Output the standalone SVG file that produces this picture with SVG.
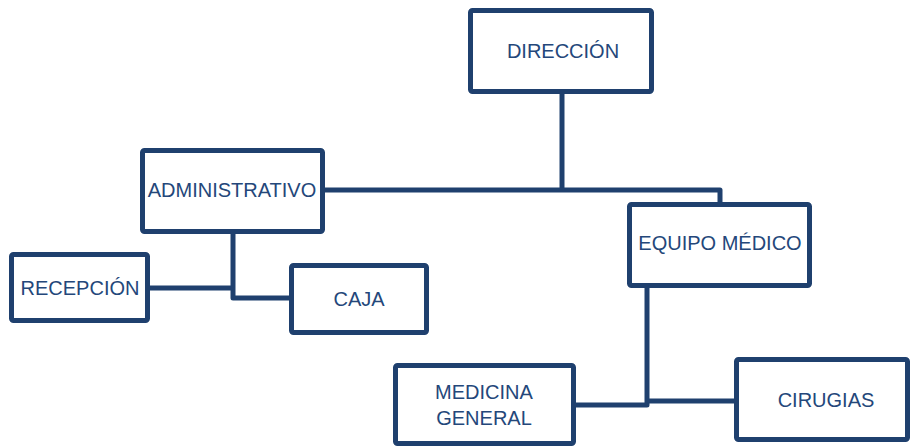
<svg xmlns="http://www.w3.org/2000/svg" width="910" height="446" viewBox="0 0 910 446">
<style>
.box{fill:#ffffff;stroke:#1f406e;stroke-width:5;stroke-linejoin:round}
.lbl{font-family:"Liberation Sans",Arial,sans-serif;font-size:20px;fill:#24477a;text-anchor:middle;dominant-baseline:central}
.con{fill:none;stroke:#1f406e;stroke-width:5;stroke-linejoin:round;stroke-linecap:butt}
</style>
<rect width="910" height="446" fill="#ffffff"/>
<g id="connectors">
<path class="con" d="M562,94 V190"/>
<path class="con" d="M325,190 H720 V202"/>
<path class="con" d="M233,234 V298 H289"/>
<path class="con" d="M150,288 H233"/>
<path class="con" d="M647,288 V405 H576"/>
<path class="con" d="M647,401 H734"/>
</g>
<g id="direccion">
<rect class="box" x="470.5" y="10.5" width="181" height="81" rx="2"/>
<text class="lbl" x="563" y="51">DIRECCIÓN</text>
</g>
<g id="administrativo">
<rect class="box" x="142.5" y="150.5" width="180" height="81" rx="2"/>
<text class="lbl" x="232" y="190">ADMINISTRATIVO</text>
</g>
<g id="equipo-medico">
<rect class="box" x="629.5" y="204.5" width="180" height="81" rx="2"/>
<text class="lbl" x="720" y="243">EQUIPO MÉDICO</text>
</g>
<g id="recepcion">
<rect class="box" x="11.5" y="254.5" width="136" height="66" rx="2"/>
<text class="lbl" x="80" y="288">RECEPCIÓN</text>
</g>
<g id="caja">
<rect class="box" x="291.5" y="265.5" width="135" height="67" rx="2"/>
<text class="lbl" x="359" y="299">CAJA</text>
</g>
<g id="medicina-general">
<rect class="box" x="395.5" y="365.5" width="178" height="78" rx="2"/>
<text class="lbl" x="484" y="392">MEDICINA</text>
<text class="lbl" x="484" y="418">GENERAL</text>
</g>
<g id="cirugias">
<rect class="box" x="736.5" y="359.5" width="171" height="80" rx="2"/>
<text class="lbl" x="826" y="400">CIRUGIAS</text>
</g>
</svg>
